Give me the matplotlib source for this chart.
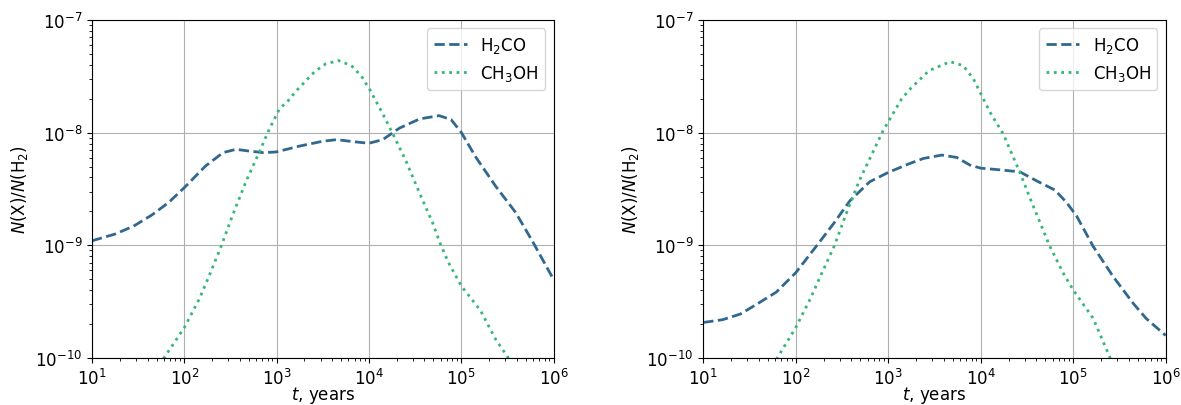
import numpy as np
import matplotlib
matplotlib.use("Agg")
import matplotlib.pyplot as plt
from matplotlib.ticker import NullFormatter

# log10(t [years]) and log10(abundance)
# Left panel
l_h2co_logt = [1.0, 1.04, 1.25, 1.45, 1.65, 1.83, 2.0, 2.23, 2.42, 2.56, 2.70, 2.85, 2.99, 3.25, 3.5,
               3.65, 3.83, 4.0, 4.15, 4.33, 4.55, 4.76, 4.89, 5.0, 5.16, 5.37, 5.59, 5.78, 6.0]
l_h2co_logy = [-8.96, -8.95, -8.90, -8.83, -8.73, -8.62, -8.488, -8.296, -8.177, -8.148, -8.163,
               -8.177, -8.172, -8.119, -8.076, -8.062, -8.08, -8.094, -8.062, -7.96, -7.878, -7.849,
               -7.884, -7.997, -8.22, -8.472, -8.709, -8.976, -9.303]
l_ch3oh_logt = [1.6, 1.78, 2.0, 2.16, 2.27, 2.40, 2.52, 2.67, 2.81, 2.92, 3.03, 3.14, 3.2, 3.41, 3.53,
                3.67, 3.81, 3.92, 4.015, 4.15, 4.26, 4.40, 4.545, 4.69, 4.77, 4.86, 5.0, 5.21, 5.37,
                5.51, 5.7]
l_ch3oh_logy = [-10.3, -10.0, -9.73, -9.48, -9.27, -9.006, -8.74, -8.43, -8.177, -7.97, -7.79, -7.704,
                -7.64, -7.46, -7.39, -7.36, -7.405, -7.50, -7.626, -7.833, -8.012, -8.249, -8.53,
                -8.80, -8.98, -9.15, -9.36, -9.58, -9.83, -10.0, -10.3]

# Right panel
r_h2co_logt = [1.0, 1.04, 1.21, 1.40, 1.574, 1.79, 2.0, 2.224, 2.404, 2.585, 2.80, 3.0, 3.235, 3.38,
               3.579, 3.741, 3.884, 4.0, 4.208, 4.424, 4.605, 4.802, 4.929, 5.037, 5.216, 5.432,
               5.648, 5.79, 6.0]
r_h2co_logy = [-9.685, -9.68, -9.66, -9.61, -9.525, -9.415, -9.243, -9.006, -8.813, -8.605, -8.436,
               -8.353, -8.273, -8.229, -8.199, -8.22, -8.288, -8.315, -8.33, -8.348, -8.428, -8.509,
               -8.62, -8.74, -9.009, -9.277, -9.514, -9.65, -9.80]
r_ch3oh_logt = [1.6, 1.80, 2.0, 2.16, 2.28, 2.42, 2.54, 2.69, 2.83, 2.946, 3.145, 3.24, 3.44, 3.67,
                3.81, 3.92, 4.10, 4.244, 4.424, 4.568, 4.748, 4.892, 5.0, 5.216, 5.40, 5.6]
r_ch3oh_logy = [-10.3, -10.0, -9.73, -9.47, -9.25, -9.0, -8.73, -8.42, -8.18, -7.98, -7.70, -7.61,
                -7.45, -7.37, -7.405, -7.52, -7.818, -8.012, -8.354, -8.652, -9.009, -9.246, -9.396,
                -9.648, -10.0, -10.3]

labels = [r"H$_2$CO", r"CH$_3$OH"]
c_h2co = "#31688e"
c_ch3oh = "#35b779"

plt.rcParams['font.size'] = 12
fig = plt.figure(figsize=(11.81, 4.06), dpi=100)
ax1 = fig.add_axes([0.0779, 0.1158, 0.3908, 0.8325])
ax2 = fig.add_axes([0.5955, 0.1158, 0.3915, 0.8325])

panels = [
    (ax1, l_h2co_logt, l_h2co_logy, l_ch3oh_logt, l_ch3oh_logy),
    (ax2, r_h2co_logt, r_h2co_logy, r_ch3oh_logt, r_ch3oh_logy),
]
for ax, ht, hy, ct, cy in panels:
    ax.plot(10 ** np.array(ht), 10 ** np.array(hy), ls="--", color=c_h2co, lw=2, label=labels[0])
    ax.plot(10 ** np.array(ct), 10 ** np.array(cy), ls=":", color=c_ch3oh, lw=2, label=labels[1])
    ax.set_xscale("log")
    ax.set_yscale("log")
    ax.set_xlim(1e1, 1e6)
    ax.set_ylim(1e-10, 1e-7)
    ax.grid(True, which="major", color="#b0b0b0", lw=0.8)
    ax.set_xlabel(r"$t$, years", labelpad=-2.5)
    ax.set_ylabel(r"$N$(X)/$N$(H$_2$)")
    ax.legend(loc="upper right")
    ax.xaxis.set_minor_formatter(NullFormatter())
    ax.yaxis.set_minor_formatter(NullFormatter())

fig.savefig("out.png", dpi=100)
